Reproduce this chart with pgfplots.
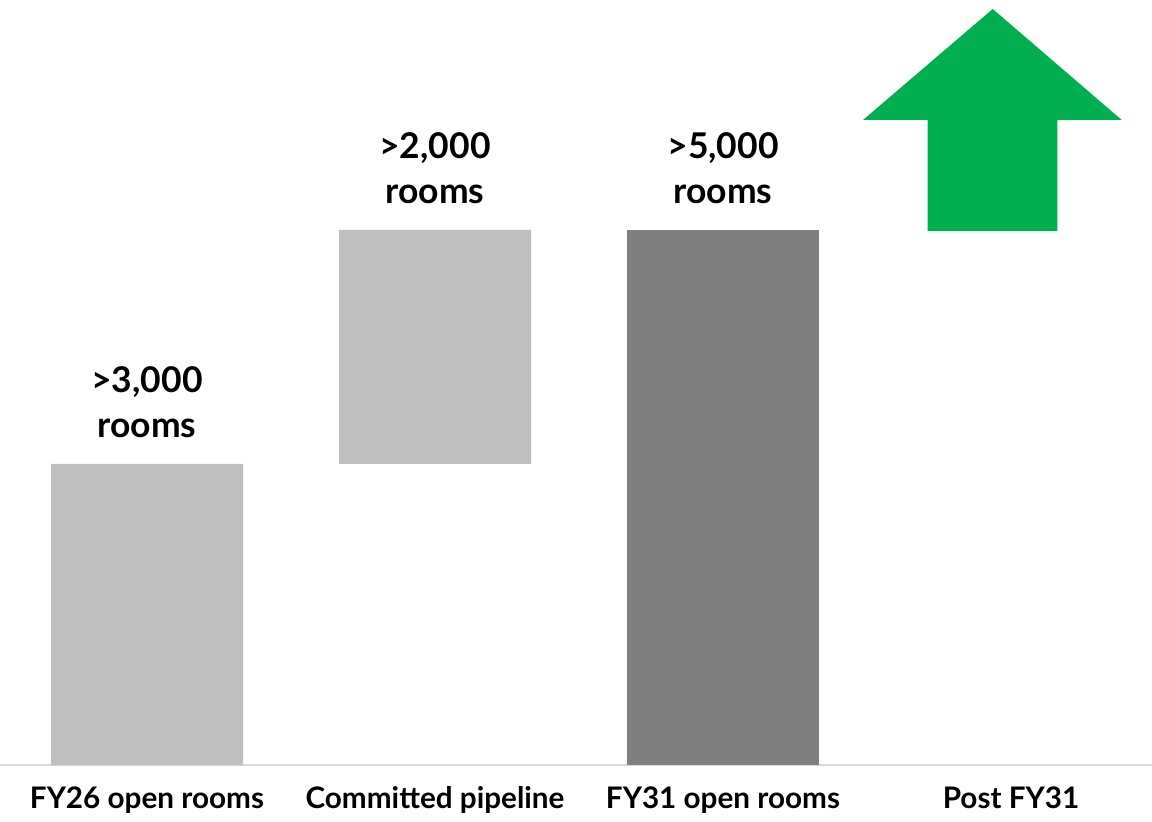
\documentclass[border=0pt]{standalone}
\usepackage{pgfplots}
\pgfplotsset{compat=1.18}
\usepackage{fontspec}
\setmainfont{Lato}
\definecolor{lightbar}{HTML}{BFBFBF}
\definecolor{darkbar}{HTML}{7F7F7F}
\definecolor{arrowgreen}{HTML}{00B050}
\definecolor{axisgray}{HTML}{D9D9D9}
\newcommand{\labfont}{\fontsize{17.8}{22.5}\selectfont\bfseries}
\begin{document}
\begin{tikzpicture}
\pgfplotsset{common/.style={scale only axis, width=576bp, height=382.5bp,
  xmin=0, xmax=1152, ymin=0, ymax=765, clip=false, at={(0,0)}, anchor=south west}}
\begin{axis}[common, name=ax, ybar stacked, bar width=192,
  axis y line=none, axis x line*=bottom,
  x axis line style={draw=axisgray, line width=1bp, -},
  xtick={147,435,723,1011},
  xticklabels={FY26 open rooms, Committed pipeline, FY31 open rooms, Post FY31},
  major tick length=0, ytick=\empty,
  xticklabel style={font=\fontsize{14.9}{17}\selectfont\bfseries, anchor=base, yshift=-21.5bp}]
\addplot[draw=none, fill=none] coordinates {(147,0) (435,301) (723,0)};
\addplot[draw=none, fill=lightbar] coordinates {(147,301) (435,234) (723,0)};
\addplot[draw=none, fill=darkbar] coordinates {(147,0) (435,0) (723,535)};
\node[anchor=south, inner sep=0, align=center, font=\labfont, yshift=13bp] at (axis cs:147,301) {>3,000\\rooms};
\node[anchor=south, inner sep=0, align=center, font=\labfont, yshift=13bp] at (axis cs:435,535) {>2,000\\rooms};
\node[anchor=south, inner sep=0, align=center, font=\labfont, yshift=13bp] at (axis cs:723,535) {>5,000\\rooms};
\end{axis}
\begin{axis}[common, hide axis]
\addplot[draw=none, fill=arrowgreen] coordinates {(927.7,534) (1057.3,534) (1057.3,645) (1121.7,645) (992.7,756) (863,645) (927.7,645)} -- cycle;
\end{axis}
\pgfresetboundingbox
\path[use as bounding box] (0,-28.5bp) rectangle (576bp,382.5bp);
\end{tikzpicture}
\end{document}
